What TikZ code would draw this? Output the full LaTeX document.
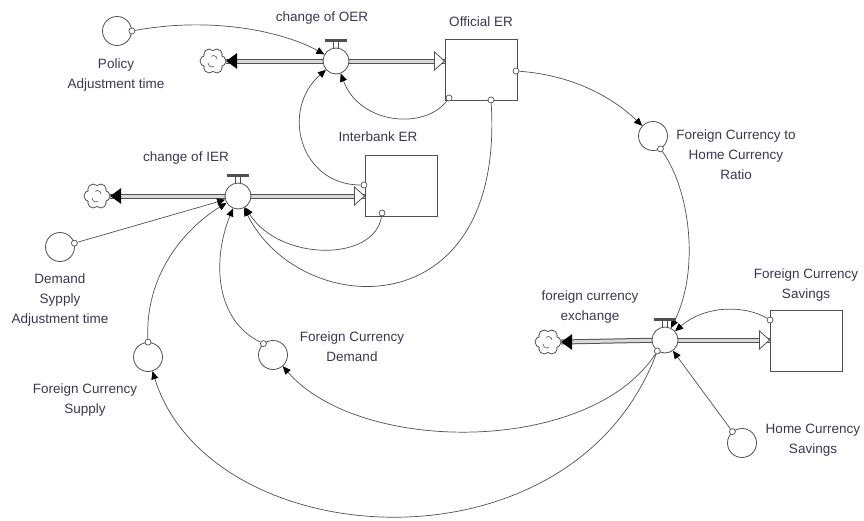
\documentclass[tikz,border=0pt]{standalone}
\usepackage{fontspec}
\setmainfont{Liberation Sans}
\usetikzlibrary{arrows.meta,backgrounds}
\definecolor{txt}{HTML}{3B3652}
\definecolor{lnc}{HTML}{505050}
\begin{document}
\begin{tikzpicture}[x=1pt,y=-1pt,
  lbl/.style={font=\fontsize{13.5}{20}\selectfont, text=txt, align=center, inner sep=0pt},
  aux/.style={circle, draw=lnc, line width=0.8pt, minimum size=29pt, inner sep=0pt, fill=white},
  valve/.style={circle, draw=lnc, line width=0.8pt, minimum size=26pt, inner sep=0pt, fill=white},
  stock/.style={rectangle, draw=lnc, line width=1pt, minimum width=72pt, minimum height=61pt, inner sep=0pt, fill=white},
  src/.style={circle, draw=lnc, line width=0.7pt, minimum size=6pt, inner sep=0pt, fill=white},
  sink/.style={circle, minimum size=26pt, inner sep=0pt},
  puff/.style={fill=white, draw=lnc, line width=0.8pt},
  curl/.style={draw=lnc, line width=0.6pt},
  link/.style={draw=lnc, line width=0.7pt, -{Triangle[length=8pt,width=7pt,color=black]}},
  pipe/.style={draw=lnc, line width=1pt, double=gray!30, double distance=3pt},
  tipfull/.style={fill=black},
  tiphollow/.style={fill=white, draw=lnc, line width=0.8pt},
]
\useasboundingbox (0,0) rectangle (864,520);

% valves, sinks, stocks, auxiliaries
\node[valve] (vOER) at (336,61) {};
\node[valve] (vIER) at (238,196) {};
\node[valve] (vFX) at (665,340) {};
\node[sink] (c1) at (213,61) {};
\node[sink] (c2) at (97,196) {};
\node[sink] (c3) at (548,342) {};
\node[stock] (OER) at (481,70) {};
\node[stock] (IER) at (401,186) {};
\node[stock] (FCS) at (806,341) {};
\node[aux] (pol) at (117,31) {};
\node[aux] (dsa) at (60,247) {};
\node[aux] (fcs) at (148,357) {};
\node[aux] (fcd) at (273,355) {};
\node[aux] (rat) at (653,136) {};
\node[aux] (hcs) at (742,443) {};

% connector origins
\node[src] (s-pol) at (pol.east) {};
\node[src] (s-oer1) at (449,98) {};
\node[src] (s-oer2) at (491,100) {};
\node[src] (s-oer3) at (516,71) {};
\node[src] (s-ier1) at (364,185) {};
\node[src] (s-ier2) at (382,213) {};
\node[src] (s-dsa) at (dsa.15) {};
\node[src] (s-fcs) at (fcs.north) {};
\node[src] (s-fcd) at (fcd.130) {};
\node[src] (s-rat) at (rat.-60) {};
\node[src] (s-hcs) at (hcs.130) {};
\node[src] (s-FCS) at (770,320) {};
\node[src] (s-fx) at (vFX.-125) {};

\begin{scope}[on background layer]
  % flow pipes
  \draw[pipe] (vOER.center) -- (c1.east);
  \draw[pipe] (vOER.center) -- (OER.west |- vOER.center);
  \draw[pipe] (vIER.center) -- (c2.east);
  \draw[pipe] (vIER.center) -- (IER.west |- vIER.center);
  \draw[pipe] (vFX.center) -- (c3.east);
  \draw[pipe] (vFX.center) -- (FCS.west |- vFX.center);
  % connectors
  \draw[link] (s-pol) .. controls (220,15) and (290,35) .. (vOER);
  \draw[link] (s-oer1) .. controls (425,130) and (360,125) .. (vOER);
  \draw[link] (s-ier1) .. controls (300,185) and (280,110) .. (vOER);
  \draw[link] (s-oer2) .. controls (505,330) and (300,320) .. (vIER);
  \draw[link] (s-ier2) .. controls (375,262) and (280,262) .. (vIER);
  \draw[link] (s-dsa) -- (vIER);
  \draw[link] (s-fcs) .. controls (145,270) and (190,225) .. (vIER);
  \draw[link] (s-fcd) .. controls (215,320) and (212,260) .. (vIER);
  \draw[link] (s-oer3) .. controls (570,75) and (610,95) .. (rat);
  \draw[link] (s-rat) .. controls (690,190) and (700,270) .. (vFX);
  \draw[link] (s-FCS) .. controls (745,305) and (705,305) .. (vFX);
  \draw[link] (s-hcs) -- (vFX);
  \draw[link] (s-fx) .. controls (590,455) and (360,455) .. (fcd);
  \draw[link] (s-fx) .. controls (570,580) and (210,555) .. (fcs);
\end{scope}

% clouds (sources/sinks)
\foreach \c in {c1,c2,c3}{
  \foreach \a in {0,60,...,300}{
    \filldraw[puff] (\c.center) ++(\a:7.5) circle[radius=5.5];
  }
  \fill[white] (\c.center) circle[radius=10];
  \draw[curl] ([shift={(-5,2)}]\c.center) arc[start angle=180, end angle=300, radius=4pt];
  \draw[curl] ([shift={(4,-2)}]\c.center) arc[start angle=0, end angle=130, radius=3.5pt];
}

% pipe arrowheads
\fill[tipfull] (c1.east) -- ++(11,-8) -- ++(0,16) -- cycle;
\fill[tipfull] (c2.east) -- ++(11,-8) -- ++(0,16) -- cycle;
\fill[tipfull] (c3.east) -- ++(11,-8) -- ++(0,16) -- cycle;
\filldraw[tiphollow] (OER.west |- vOER.center) -- ++(-10,-9) -- ++(0,18) -- cycle;
\filldraw[tiphollow] (IER.west |- vIER.center) -- ++(-10,-9) -- ++(0,18) -- cycle;
\filldraw[tiphollow] (FCS.west |- vFX.center) -- ++(-10,-9) -- ++(0,18) -- cycle;

% valve handles
\foreach \v in {vOER,vIER,vFX}{
  \draw[lnc, line width=0.7pt] ([xshift=-2.5pt]\v.north) -- ++(0,-6) ([xshift=2.5pt]\v.north) -- ++(0,-6);
  \fill[lnc] ([shift={(-11,-6)}]\v.north) rectangle ([shift={(11,-9)}]\v.north);
}

% labels
\node[lbl] (t-coer) at (322,18) {change of OER};
\node[lbl] (t-OER) at (481,22) {Official ER};
\node[lbl] (t-pol) at (116,75) {Policy\\Adjustment time};
\node[lbl] (t-IER) at (378,137) {Interbank ER};
\node[lbl] (t-cier) at (186,158) {change of IER};
\node[lbl] (t-dsa) at (60,300) {Demand\\Sypply\\Adjustment time};
\node[lbl] (t-fcs) at (85,400) {Foreign Currency\\Supply};
\node[lbl] (t-fcd) at (352,347) {Foreign Currency\\Demand};
\node[lbl] (t-rat) at (736,155) {Foreign Currency to\\Home Currency\\Ratio};
\node[lbl] (t-fx) at (590,307) {foreign currency\\exchange};
\node[lbl] (t-FCS) at (806,285) {Foreign Currency\\Savings};
\node[lbl] (t-hcs) at (813,440) {Home Currency\\Savings};
\end{tikzpicture}
\end{document}
